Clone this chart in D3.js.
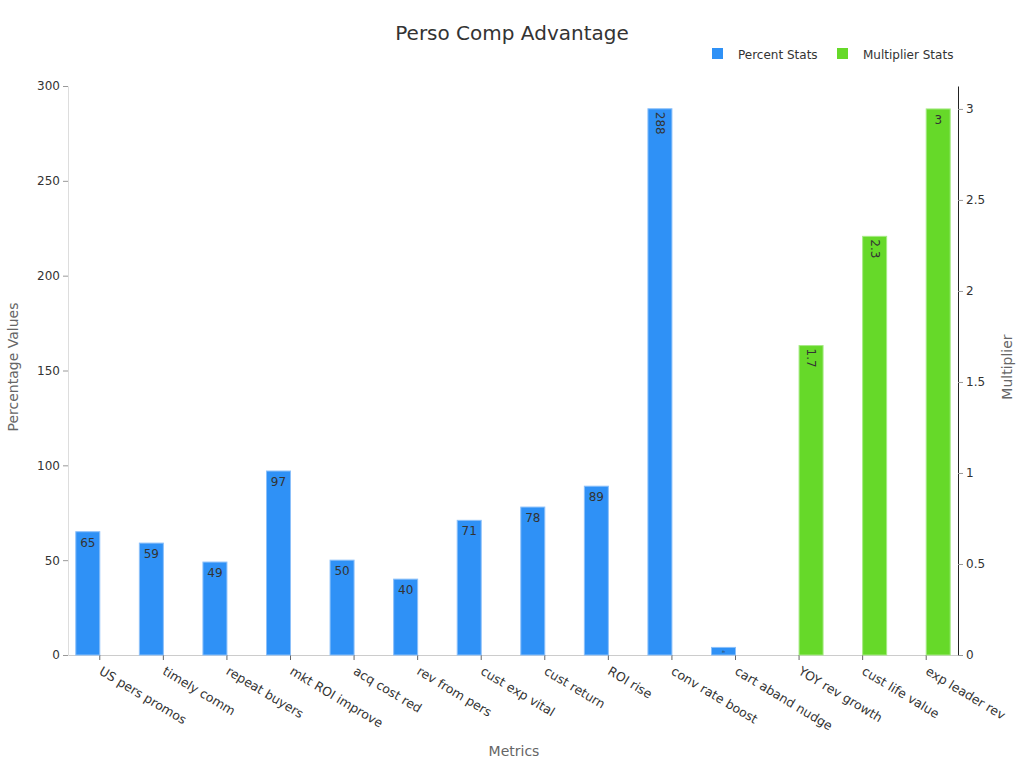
<!DOCTYPE html>
<html>
<head>
<meta charset="utf-8">
<script src="https://cdn.jsdelivr.net/npm/d3@7"></script>
<style>
body{margin:0;background:#fff;font-family:"DejaVu Sans",sans-serif}
</style>
</head>
<body>
<div id="chart"></div>
<script>
//chart data
let categories=["US pers promos","timely comm","repeat buyers","mkt ROI improve","acq cost red","rev from pers","cust exp vital","cust return","ROI rise","conv rate boost","cart aband nudge","YOY rev growth","cust life value","exp leader rev"]
let percentValues=[65,59,49,97,50,40,71,78,89,288,4,null,null,null]
let multiplierValues=[null,null,null,null,null,null,null,null,null,null,null,1.7,2.3,3]
let leftTicks=[0,50,100,150,200,250,300]
let rightTicks=[0,0.5,1,1.5,2,2.5,3]

let width=1024,height=768
let plotLeft=68,plotRight=958,plotTop=86,plotBottom=655

const svg=d3.select("#chart").append("svg").attr("width",width).attr("height",height)

const xScale=d3.scaleBand().domain(categories).range([plotLeft,plotRight])
const yLeft=d3.scaleLinear().domain([0,300]).range([plotBottom,plotTop])
const yRight=d3.scaleLinear().domain([0,3.126]).range([plotBottom,plotTop])
let barW=24

//title
svg.append("text").attr("x",512).attr("y",40).attr("text-anchor","middle").attr("font-size",20).attr("fill","#333").text("Perso Comp Advantage")

//legend
let legend=[["Percent Stats","#2f91f6",712],["Multiplier Stats","#66d929",837]]
legend.forEach(l=>{
    svg.append("rect").attr("x",l[2]).attr("y",48).attr("width",11).attr("height",11).attr("fill",l[1])
    svg.append("text").attr("x",l[2]+26).attr("y",59).attr("font-size",12).attr("fill","#333").text(l[0])
})

//axes
const xAxis=d3.axisBottom(xScale).tickSize(5).tickSizeOuter(0)
const gx=svg.append("g").attr("transform","translate(0,"+plotBottom+")").call(xAxis)
gx.select(".domain").attr("stroke","#ccc")
gx.selectAll(".tick line").attr("stroke","#666")
gx.selectAll(".tick text").attr("font-size",12.5).attr("fill","#333").attr("font-family","DejaVu Sans")
  .attr("text-anchor","start").attr("x",0).attr("y",0).attr("dy","0.71em").attr("transform","translate(3,11) rotate(31)")

const gl=svg.append("g").attr("transform","translate("+plotLeft+",0)").call(d3.axisLeft(yLeft).tickValues(leftTicks).tickSize(5).tickSizeOuter(0))
gl.select(".domain").attr("stroke","#ddd")
gl.selectAll(".tick line").attr("stroke","#999")
gl.selectAll(".tick text").attr("font-size",12).attr("fill","#333").attr("font-family","DejaVu Sans")

const gr=svg.append("g").attr("transform","translate("+plotRight+",0)").call(d3.axisRight(yRight).tickValues(rightTicks).tickFormat(d3.format("~g")).tickSize(5).tickSizeOuter(0))
gr.select(".domain").attr("stroke","#222")
gr.selectAll(".tick line").attr("stroke","#999")
gr.selectAll(".tick text").attr("font-size",12).attr("fill","#333").attr("font-family","DejaVu Sans")

//axis titles
svg.append("text").attr("x",514).attr("y",756).attr("text-anchor","middle").attr("font-size",14).attr("fill","#666").text("Metrics")
svg.append("text").attr("transform","translate(18,367) rotate(-90)").attr("text-anchor","middle").attr("font-size",14).attr("fill","#666").text("Percentage Values")
svg.append("text").attr("transform","translate(1012,367) rotate(-90)").attr("text-anchor","middle").attr("font-size",14).attr("fill","#666").text("Multiplier")

function drawBars(values,scale,color,stroke,offset){
    let data=categories.map((c,i)=>({c:c,v:values[i]})).filter(d=>d.v!=null)
    svg.append("g").selectAll("rect").data(data).enter().append("rect")
        .attr("x",d=>xScale(d.c)+xScale.bandwidth()/2+offset)
        .attr("y",d=>scale(d.v))
        .attr("width",barW)
        .attr("height",d=>plotBottom-scale(d.v))
        .attr("fill",color).attr("stroke",stroke).attr("stroke-width",1)
    let g=svg.append("g").selectAll("text").data(data).enter().append("text")
        .attr("font-size",d=>plotBottom-scale(d.v)<20?4:12).attr("fill","#333")
        .text(d=>d.v)
    g.each(function(d){
        let cx=xScale(d.c)+xScale.bandwidth()/2+offset+barW/2
        let ty=scale(d.v)
        let t=d3.select(this)
        if(plotBottom-ty<20){
            t.attr("text-anchor","middle").attr("transform","translate("+cx+","+(ty+4)+") rotate(90)").attr("dy","0.35em")
        }else if(String(d.v).length>=3){
            t.attr("text-anchor","start").attr("transform","translate("+(cx-4)+","+(ty+3)+") rotate(90)")
        }else{
            t.attr("text-anchor","middle").attr("x",cx).attr("y",ty+15)
        }
    })
}
drawBars(percentValues,yLeft,"#2f91f6","#8cc0fa",-barW)
drawBars(multiplierValues,yRight,"#66d929","#a6ea84",0)
</script>
</body>
</html>
